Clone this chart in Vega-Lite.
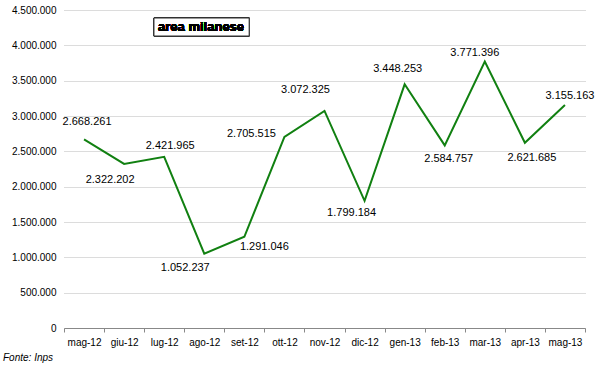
{
  "$schema": "https://vega.github.io/schema/vega-lite/v6.json",
  "width": 521,
  "height": 318,
  "autosize": {"type": "none"},
  "padding": {"left": 64, "top": 10, "right": 15, "bottom": 40},
  "background": "white",
  "config": {
    "locale": {"number": {"decimal": ",", "thousands": ".", "grouping": [3], "currency": ["", "€"]}},
    "font": "Liberation Sans",
    "view": {"stroke": null}
  },
  "title": {
    "text": "Fonte: Inps",
    "orient": "bottom",
    "anchor": "start",
    "frame": "group",
    "fontStyle": "italic",
    "fontWeight": "normal",
    "fontSize": 10,
    "color": "#000000",
    "dx": -61,
    "offset": 6
  },
  "data": {
    "values": [
      {"m": "mag-12", "v": 2668261},
      {"m": "giu-12", "v": 2322202},
      {"m": "lug-12", "v": 2421965},
      {"m": "ago-12", "v": 1052237},
      {"m": "set-12", "v": 1291046},
      {"m": "ott-12", "v": 2705515},
      {"m": "nov-12", "v": 3072325},
      {"m": "dic-12", "v": 1799184},
      {"m": "gen-13", "v": 3448253},
      {"m": "feb-13", "v": 2584757},
      {"m": "mar-13", "v": 3771396},
      {"m": "apr-13", "v": 2621685},
      {"m": "mag-13", "v": 3155163}
    ]
  },
  "encoding": {
    "x": {
      "field": "m", "type": "ordinal", "sort": null,
      "scale": {"type": "band", "paddingInner": 0, "paddingOuter": 0},
      "axis": {
        "title": null, "labelAngle": 0, "tickBand": "extent",
        "domainColor": "#888888", "tickColor": "#888888", "tickSize": 4,
        "labelFontSize": 10, "labelColor": "#000000", "labelPadding": 5,
        "grid": false
      }
    },
    "y": {
      "field": "v", "type": "quantitative",
      "scale": {"domain": [0, 4500000], "nice": false},
      "axis": {
        "title": null, "format": ",d",
        "values": [0, 500000, 1000000, 1500000, 2000000, 2500000, 3000000, 3500000, 4000000, 4500000],
        "domain": false, "ticks": false, "labelPadding": 8,
        "labelFontSize": 10, "labelColor": "#000000",
        "gridColor": "#b8b8b8", "gridDash": [1, 1], "gridWidth": 1
      }
    }
  },
  "layer": [
    {"mark": {"type": "line", "color": "#118011", "strokeWidth": 2}},
    {
      "mark": {"type": "rect", "fill": "white", "stroke": "#333333", "strokeWidth": 1},
      "encoding": {
        "x": {"datum": "lug-12", "bandPosition": 0.245},
        "x2": {"datum": "set-12", "bandPosition": 0.62},
        "y": {"datum": 4386792},
        "y2": {"datum": 4132075}
      }
    },
    {
      "mark": {"type": "text", "text": "area milanese", "fontWeight": "bold", "fontSize": 13, "color": "#000000", "baseline": "middle"},
      "encoding": {
        "x": {"datum": "ago-12", "bandPosition": 0.42},
        "y": {"datum": 4259434}
      }
    },
    {"transform": [{"filter": "datum.m == 'mag-12'"}], "mark": {"type": "text", "fontSize": 11, "dx": 3, "dy": -17, "baseline": "middle"}, "encoding": {"text": {"field": "v", "format": ",d"}}},
    {"transform": [{"filter": "datum.m == 'giu-12'"}], "mark": {"type": "text", "fontSize": 11, "dx": -14, "dy": 16, "baseline": "middle"}, "encoding": {"text": {"field": "v", "format": ",d"}}},
    {"transform": [{"filter": "datum.m == 'lug-12'"}], "mark": {"type": "text", "fontSize": 11, "dx": 6, "dy": -11, "baseline": "middle"}, "encoding": {"text": {"field": "v", "format": ",d"}}},
    {"transform": [{"filter": "datum.m == 'ago-12'"}], "mark": {"type": "text", "fontSize": 11, "dx": -19, "dy": 14, "baseline": "middle"}, "encoding": {"text": {"field": "v", "format": ",d"}}},
    {"transform": [{"filter": "datum.m == 'set-12'"}], "mark": {"type": "text", "fontSize": 11, "dx": 20, "dy": 10, "baseline": "middle"}, "encoding": {"text": {"field": "v", "format": ",d"}}},
    {"transform": [{"filter": "datum.m == 'ott-12'"}], "mark": {"type": "text", "fontSize": 11, "dx": -33, "dy": -3, "baseline": "middle"}, "encoding": {"text": {"field": "v", "format": ",d"}}},
    {"transform": [{"filter": "datum.m == 'nov-12'"}], "mark": {"type": "text", "fontSize": 11, "dx": -19, "dy": -21, "baseline": "middle"}, "encoding": {"text": {"field": "v", "format": ",d"}}},
    {"transform": [{"filter": "datum.m == 'dic-12'"}], "mark": {"type": "text", "fontSize": 11, "dx": -13, "dy": 12, "baseline": "middle"}, "encoding": {"text": {"field": "v", "format": ",d"}}},
    {"transform": [{"filter": "datum.m == 'gen-13'"}], "mark": {"type": "text", "fontSize": 11, "dx": -7, "dy": -15, "baseline": "middle"}, "encoding": {"text": {"field": "v", "format": ",d"}}},
    {"transform": [{"filter": "datum.m == 'feb-13'"}], "mark": {"type": "text", "fontSize": 11, "dx": 4, "dy": 14, "baseline": "middle"}, "encoding": {"text": {"field": "v", "format": ",d"}}},
    {"transform": [{"filter": "datum.m == 'mar-13'"}], "mark": {"type": "text", "fontSize": 11, "dx": -10, "dy": -8, "baseline": "middle"}, "encoding": {"text": {"field": "v", "format": ",d"}}},
    {"transform": [{"filter": "datum.m == 'apr-13'"}], "mark": {"type": "text", "fontSize": 11, "dx": 7, "dy": 15, "baseline": "middle"}, "encoding": {"text": {"field": "v", "format": ",d"}}},
    {"transform": [{"filter": "datum.m == 'mag-13'"}], "mark": {"type": "text", "fontSize": 11, "dx": 5, "dy": -9, "baseline": "middle"}, "encoding": {"text": {"field": "v", "format": ",d"}}}
  ]
}
